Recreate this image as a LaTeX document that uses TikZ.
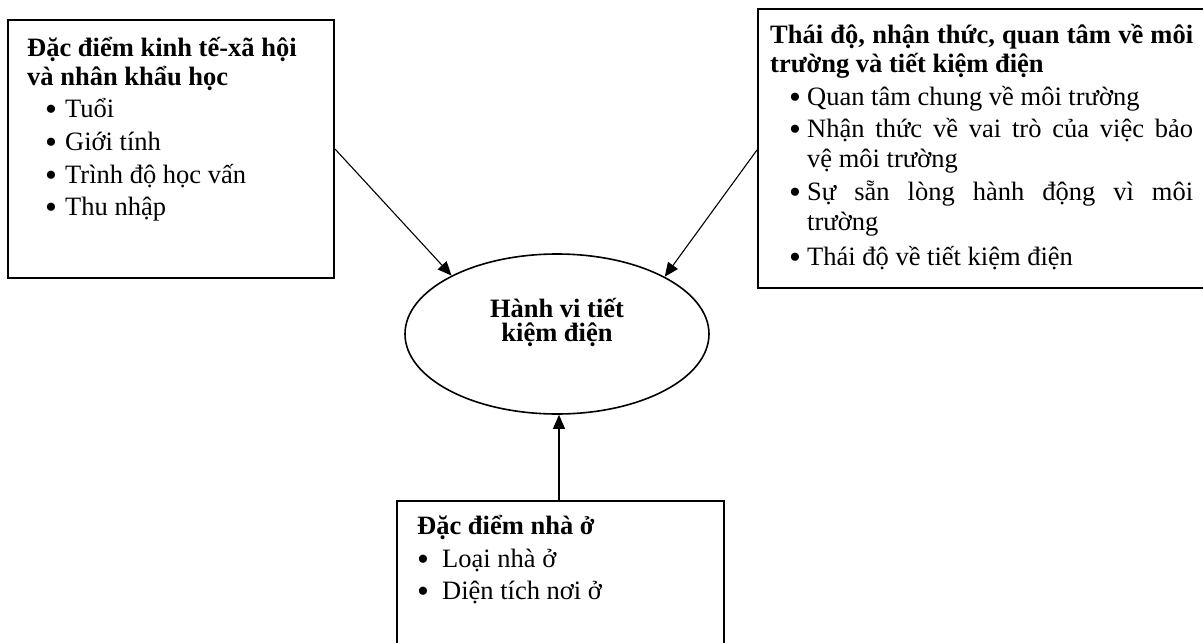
\documentclass[tikz,border=0pt]{standalone}
\usepackage{fontspec}
\setmainfont{Liberation Serif}
\usetikzlibrary{shapes.geometric,arrows.meta}
\newcommand{\bul}{\raisebox{-3.5pt}{\fontsize{34}{34}\selectfont •}}
\begin{document}
\begin{tikzpicture}[x=1pt,y=-1pt,
  boxst/.style={draw=black,line width=2pt,rectangle,inner sep=0pt,anchor=north west},
  ellst/.style={draw=black,line width=1.6pt,ellipse,inner sep=0pt,minimum width=304pt,minimum height=160pt},
  txt/.style={anchor=base west,inner sep=0pt,font=\fontsize{26.5}{30}\selectfont},
  bst/.style={anchor=base west,inner sep=0pt},
  ttl/.style={anchor=base west,inner sep=0pt,font=\fontsize{26.5}{30}\selectfont\bfseries},
  ctr/.style={anchor=base,inner sep=0pt,font=\fontsize{26.5}{30}\selectfont\bfseries},
  arr/.style={line width=1.1pt,-{Triangle[length=14pt,width=12pt]}}]
\useasboundingbox (0,0) rectangle (1203,643);
\clip (0,0) rectangle (1203,643);
% boxes
\node[boxst,minimum width=326pt,minimum height=258pt] (b1) at (7,19) {};
\node[boxst,minimum width=452pt,minimum height=279pt] (b2) at (757,8) {};
\node[boxst,minimum width=327pt,minimum height=170pt] (b3) at (396,500) {};
\node[ellst] (hv) at (557,334) {};
% ellipse text
\node[ctr] (h1) at (557,317) {Hành vi tiết};
\node[ctr] (h2) at (557,341) {kiệm điện};
% box 1 text
\node[ttl] (t11) at (27,56) {Đặc điểm kinh tế-xã hội};
\node[ttl] (t12) at (27,85) {và nhân khẩu học};
\node[bst] (p11) at (45,117) {\bul};
\node[txt] (i11) at (65,117) {Tuổi};
\node[bst] (p12) at (45,150) {\bul};
\node[txt] (i12) at (65,150) {Giới tính};
\node[bst] (p13) at (45,183) {\bul};
\node[txt] (i13) at (65,183) {Trình độ học vấn};
\node[bst] (p14) at (45,215) {\bul};
\node[txt] (i14) at (65,215) {Thu nhập};
% box 2 text
\node[ttl] (t21) at (770,43) {\makebox[423pt][s]{Thái độ, nhận thức, quan tâm về môi}};
\node[ttl] (t22) at (770,72) {trường và tiết kiệm điện};
\node[bst] (p21) at (789,105) {\bul};
\node[txt] (i21) at (807,105) {Quan tâm chung về môi trường};
\node[bst] (p22) at (789,137) {\bul};
\node[txt] (i22) at (807,137) {\makebox[386pt][s]{Nhận thức về vai trò của việc bảo}};
\node[txt] (i22b) at (807,167) {vệ môi trường};
\node[bst] (p23) at (789,200) {\bul};
\node[txt] (i23) at (807,200) {\makebox[386pt][s]{Sự sẵn lòng hành động vì môi}};
\node[txt] (i23b) at (807,230) {trường};
\node[bst] (p24) at (789,265) {\bul};
\node[txt] (i24) at (807,265) {Thái độ về tiết kiệm điện};
% box 3 text
\node[ttl] (t31) at (417,534) {Đặc điểm nhà ở};
\node[bst] (p31) at (417,567) {\bul};
\node[txt] (i31) at (442,567) {Loại nhà ở};
\node[bst] (p32) at (417,599) {\bul};
\node[txt] (i32) at (442,599) {Diện tích nơi ở};
% connectors
\coordinate (s1) at (b1.east |- 0,149);
\coordinate (s2) at (b2.west |- 0,150);
\coordinate (s3) at (559,500);
\draw[arr] (s1) -- (hv.151.6);
\draw[arr] (s2) -- (hv.28.4);
\draw[arr] (s3) -- (hv.south -| s3);
\end{tikzpicture}
\end{document}
